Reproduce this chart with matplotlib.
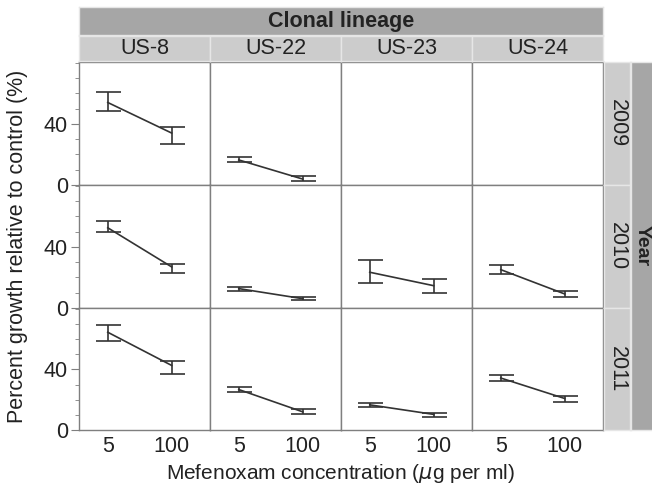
import numpy as np
import matplotlib
matplotlib.use("Agg")
import matplotlib.pyplot as plt
from matplotlib.ticker import MultipleLocator

plt.rcParams["font.family"] = ["Liberation Sans", "DejaVu Sans"]

lineages = ["US-8", "US-22", "US-23", "US-24"]
years = ["2009", "2010", "2011"]
conc = ["5", "100"]

# mean, lower and upper end of the error bar, one pair (5, 100) per lineage
mean_2009 = [[54.0, 34.0], [16.4, 3.9], None, None]
low_2009 = [[48.5, 27.0], [14.9, 2.6], None, None]
high_2009 = [[61.0, 38.0], [18.6, 5.9], None, None]

mean_2010 = [[52.5, 26.9], [12.7, 6.1], [23.4, 14.6], [25.1, 9.2]]
low_2010 = [[49.8, 22.9], [11.1, 5.0], [16.2, 9.8], [22.3, 7.2]]
high_2010 = [[57.2, 28.8], [13.8, 7.0], [31.2, 19.2], [28.4, 11.3]]

mean_2011 = [[64.5, 42.6], [26.7, 12.0], [16.6, 10.3], [34.3, 20.8]]
low_2011 = [[59.0, 37.2], [24.9, 10.3], [15.3, 8.7], [32.6, 18.6]]
high_2011 = [[69.5, 45.2], [28.6, 13.6], [17.9, 11.1], [36.1, 22.5]]

means = [mean_2009, mean_2010, mean_2011]
lows = [low_2009, low_2010, low_2011]
highs = [high_2009, high_2010, high_2011]

W, H = 652, 484
fig = plt.figure(figsize=(W / 100, H / 100), dpi=100)
txt = "#222222"
fs = 15.5


def px_axes(x0, y0, x1, y1):
    return fig.add_axes([x0 / W, 1 - y1 / H, (x1 - x0) / W, (y1 - y0) / H])


def strip(x0, y0, x1, y1, color, text, rot=0, bold=False, size=fs, tx=0.5):
    a = px_axes(x0, y0, x1, y1)
    a.set_facecolor(color)
    a.set_xticks([])
    a.set_yticks([])
    for s in a.spines.values():
        s.set_color("#e6e6e6")
        s.set_linewidth(1)
    a.text(tx, 0.5, text, ha="center", va="center", rotation=rot,
           fontsize=size, fontweight="bold" if bold else "normal",
           color=txt, transform=a.transAxes)
    return a


xe = [79, 210, 341, 472, 603]
ye = [62, 185, 308, 430]
line_col = "#333333"
grid_col = "#7f7f7f"

for r in range(3):
    for c in range(4):
        ax = px_axes(xe[c], ye[r], xe[c + 1], ye[r + 1])
        ax.set_xlim(0.55, 2.6)
        ax.set_ylim(0, 80.5)
        for s in ax.spines.values():
            s.set_color(grid_col)
            s.set_linewidth(1)
        m = means[r][c]
        if m is not None:
            lo = lows[r][c]
            hi = highs[r][c]
            x = np.arange(1, len(conc) + 1)
            yerr = [np.array(m) - np.array(lo), np.array(hi) - np.array(m)]
            ax.errorbar(x, m, yerr=yerr, color=line_col, lw=1.2,
                        capsize=9, capthick=1.2, elinewidth=1.2)
        ax.set_xticks([1, 2])
        if r == 2:
            ax.set_xticklabels(conc, fontsize=fs, color=txt)
            ax.tick_params(axis="x", length=0, pad=4)
        else:
            ax.set_xticklabels([])
            ax.tick_params(axis="x", length=0)
        if c == 0:
            ax.set_yticks([0, 40])
            ax.set_yticklabels(["0", "40"], fontsize=fs, color=txt)
            ax.yaxis.set_minor_locator(MultipleLocator(10))
            ax.tick_params(axis="y", which="major", length=6, color=grid_col, pad=2)
            ax.tick_params(axis="y", which="minor", length=3, color=grid_col)
        else:
            ax.set_yticks([])

# column strips
strip(xe[0], 7, xe[-1], 35, "#a6a6a6", "Clonal lineage", bold=True)
for c in range(4):
    strip(xe[c], 36, xe[c + 1], 61, "#cccccc", lineages[c])

# row strips
for r in range(3):
    strip(604, ye[r], 630, ye[r + 1], "#cccccc", years[r], rot=-90)
strip(631, ye[0], 660, ye[-1], "#a6a6a6", "Year", rot=-90, bold=True,
      size=14, tx=0.37)

fig.text(18 / W, 1 - 246 / H, "Percent growth relative to control (%)",
         rotation=90, ha="center", va="center", fontsize=fs, color=txt)
fig.text(341 / W, 1 - 479 / H, r"Mefenoxam concentration ($\mu$g per ml)",
         ha="center", va="baseline", fontsize=15, color=txt)

fig.savefig("out.png", dpi=100)
